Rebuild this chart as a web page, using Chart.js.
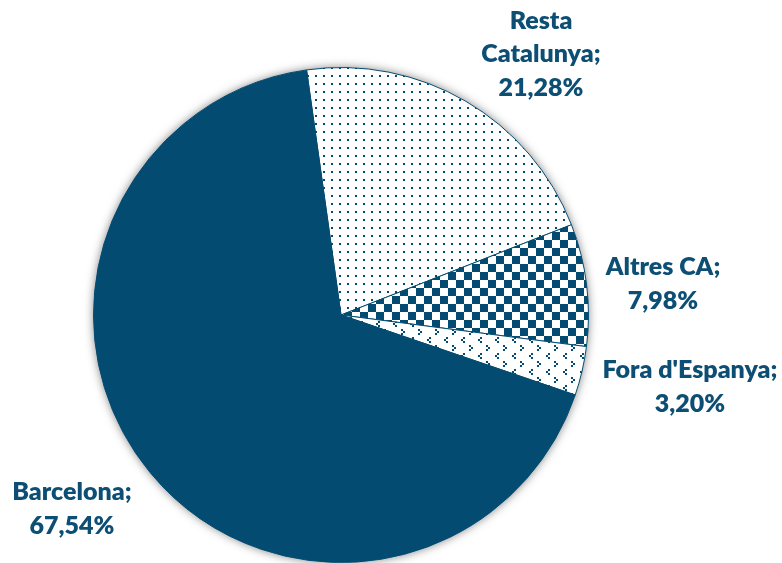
<!DOCTYPE html>
<html>
<head>
<meta charset="utf-8">
<script src="https://cdn.jsdelivr.net/npm/chart.js@4"></script>
<style>
html,body{margin:0;padding:0;background:#fff;}
#wrap{width:782px;height:563px;position:relative;}
</style>
</head>
<body>
<div id="wrap"><canvas id="c" width="782" height="563"></canvas></div>
<script>
// ---- data ----
const categories = ["Resta Catalunya", "Altres CA", "Fora d'Espanya", "Barcelona"];
const values = [21.28, 7.98, 3.20, 67.54];
const labelLines = [["Resta", "Catalunya;", "21,28%"], ["Altres CA;", "7,98%"], ["Fora d'Espanya;", "3,20%"], ["Barcelona;", "67,54%"]];

// ---- styles ----
const BLUE = '#034B70';
const TEXT = '#0D4F74';
// label anchor offsets (relative to pie centre, in px) – styling only
const labelOffsets = [[200, -261], [322, -31], [349, 72], [-269, 194]];

function makePattern(kind) {
  const c = document.createElement('canvas');
  const x = c.getContext('2d');
  if (kind === 'dots') {
    c.width = 8; c.height = 8;
    x.fillStyle = '#fff'; x.fillRect(0, 0, 8, 8);
    x.fillStyle = BLUE; x.fillRect(3, 3, 2, 2);
  } else if (kind === 'check') {
    c.width = 16; c.height = 16;
    x.fillStyle = '#fff'; x.fillRect(0, 0, 16, 16);
    x.fillStyle = BLUE; x.fillRect(0, 0, 8, 8); x.fillRect(8, 8, 8, 8);
  } else {
    c.width = 17; c.height = 16;
    x.fillStyle = '#fff'; x.fillRect(0, 0, 17, 16);
    x.fillStyle = BLUE;
    // "<" shape
    x.fillRect(4, 1, 2, 2); x.fillRect(2, 3, 2, 2); x.fillRect(4, 5, 2, 2);
    // ">" shape
    x.fillRect(10, 9, 2, 2); x.fillRect(12, 11, 2, 2); x.fillRect(10, 13, 2, 2);
  }
  return x.createPattern(c, 'repeat');
}

const ctx = document.getElementById('c').getContext('2d');
const fills = [makePattern('dots'), makePattern('check'), makePattern('chev'), BLUE];

const shadowPlugin = {
  id: 'pieShadow',
  beforeDatasetsDraw(chart) {
    const arc = chart.getDatasetMeta(0).data[0];
    if (!arc) return;
    const g = chart.ctx;
    g.save();
    g.shadowColor = 'rgba(0,0,0,0.5)';
    g.shadowBlur = 10;
    g.shadowOffsetX = 0; g.shadowOffsetY = 0;
    g.fillStyle = '#fff';
    g.beginPath();
    g.arc(arc.x, arc.y, arc.outerRadius, 0, Math.PI * 2);
    g.fill();
    g.restore();
  }
};

const labelPlugin = {
  id: 'outLabels',
  afterDatasetsDraw(chart) {
    const meta = chart.getDatasetMeta(0);
    const g = chart.ctx;
    g.save();
    g.font = '800 25px Lato';
    g.fillStyle = TEXT;
    g.textAlign = 'center';
    g.textBaseline = 'middle';
    meta.data.forEach((arc, i) => {
      const lines = labelLines[i];
      const [dx, dy] = labelOffsets[i];
      const cx = arc.x + dx, cy = arc.y + dy;
      const lh = 33.5;
      const y0 = cy - (lines.length - 1) * lh / 2;
      lines.forEach((t, k) => g.fillText(t, cx, y0 + k * lh));
    });
    g.restore();
  }
};

new Chart(ctx, {
  type: 'pie',
  data: {
    labels: categories,
    datasets: [{
      data: values,
      backgroundColor: fills,
      borderColor: BLUE,
      borderWidth: 1,
      hoverOffset: 0
    }]
  },
  options: {
    responsive: false,
    animation: false,
    rotation: -8,
    layout: { padding: { left: 93, right: 193, top: 67, bottom: 0 } },
    plugins: { legend: { display: false }, tooltip: { enabled: false } }
  },
  plugins: [shadowPlugin, labelPlugin]
});
</script>
</body>
</html>
